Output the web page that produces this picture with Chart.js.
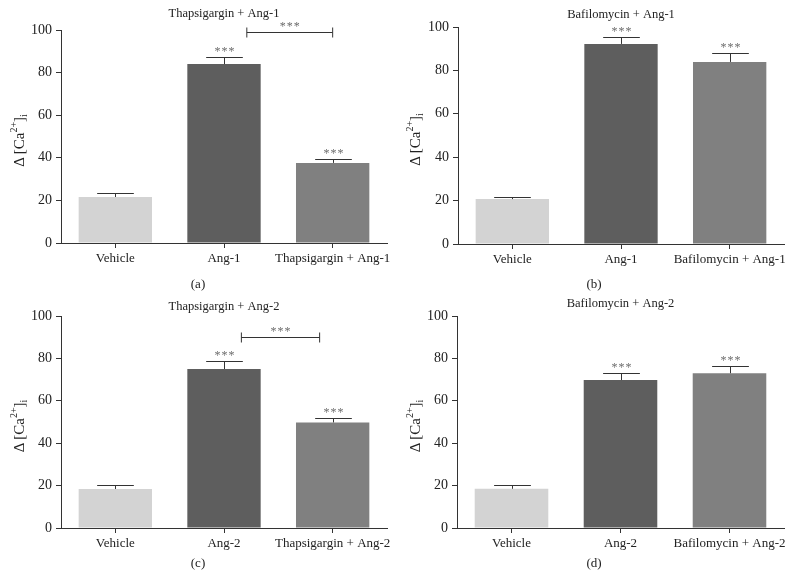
<!DOCTYPE html>
<html>
<head>
<meta charset="utf-8">
<script src="https://cdn.jsdelivr.net/npm/chart.js@4.4.1/dist/chart.umd.min.js"></script>
<style>
  body { margin: 0; background: #fff; }
  .panel { position: absolute; width: 396px; }
  .panel canvas { display: block; }
</style>
</head>
<body>
<div class="panel" style="left:0;top:0;height:292px"><canvas id="chartA"></canvas></div>
<div class="panel" style="left:396px;top:0;height:292px"><canvas id="chartB"></canvas></div>
<div class="panel" style="left:0;top:292px;height:293px"><canvas id="chartC"></canvas></div>
<div class="panel" style="left:396px;top:292px;height:293px"><canvas id="chartD"></canvas></div>
<script>
// values (mean and one-sided SEM)
const categoriesA = ['Vehicle', 'Ang-1', 'Thapsigargin + Ang-1'];
const meansA = [21.6, 84, 37.6];
const errorsA = [1.9, 3.3, 1.8];
const starsA = ['', '***', '***'];

const categoriesB = ['Vehicle', 'Ang-1', 'Bafilomycin + Ang-1'];
const meansB = [20.7, 92.2, 83.9];
const errorsB = [1.0, 3.2, 4.1];
const starsB = ['', '***', '***'];

const categoriesC = ['Vehicle', 'Ang-2', 'Thapsigargin + Ang-2'];
const meansC = [18.4, 75, 49.8];
const errorsC = [1.9, 3.6, 2.2];
const starsC = ['', '***', '***'];

const categoriesD = ['Vehicle', 'Ang-2', 'Bafilomycin + Ang-2'];
const meansD = [18.5, 69.8, 73];
const errorsD = [1.8, 3.5, 3.6];
const starsD = ['', '***', '***'];

const yMin = 0, yMax = 100, yStep = 20;
const barColors = ['#d3d3d3', '#5e5e5e', '#808080'];
const serif = '"Liberation Serif", "DejaVu Serif", serif';
const axisColor = '#333';

function drawStars(ctx, x, y) {
    ctx.fillStyle = '#6a6a6a';
    ctx.font = '12px ' + serif;
    ctx.textAlign = 'center';
    ctx.textBaseline = 'middle';
    [-7, 0, 7].forEach(dx => ctx.fillText('*', x + dx, y));
}

const annotate = {
    id: 'annotate',
    afterDatasetsDraw(chart, args, opts) {
        const { ctx, chartArea, scales: { x, y } } = chart;
        const ds = chart.data.datasets[0];
        const meta = chart.getDatasetMeta(0);
        ctx.save();
        ctx.strokeStyle = axisColor;
        ctx.lineWidth = 1;
        meta.data.forEach((bar, i) => {
            const top = Math.round(y.getPixelForValue(ds.data[i] + ds.errors[i])) + 0.5;
            const cx = Math.round(bar.x) + 0.5;
            const half = bar.width / 4;
            ctx.beginPath();
            ctx.moveTo(cx, bar.y);
            ctx.lineTo(cx, top);
            ctx.moveTo(cx - half, top);
            ctx.lineTo(cx + half, top);
            ctx.stroke();
            if (ds.stars[i]) drawStars(ctx, cx, top - 6);
        });

        // comparison bracket
        const b = opts.bracket;
        if (b) {
            const step = x.getPixelForValue(1) - x.getPixelForValue(0);
            const x0 = x.getPixelForValue(0) + b.from * step;
            const x1 = x.getPixelForValue(0) + b.to * step;
            const by = Math.round(y.getPixelForValue(b.value)) + 0.5;
            ctx.beginPath();
            ctx.moveTo(x0, by); ctx.lineTo(x1, by);
            ctx.moveTo(x0, by - 5); ctx.lineTo(x0, by + 5);
            ctx.moveTo(x1, by - 5); ctx.lineTo(x1, by + 5);
            ctx.stroke();
            drawStars(ctx, (x0 + x1) / 2, by - 6);
        }

        // panel title and letter
        ctx.fillStyle = '#222';
        ctx.textAlign = 'center';
        ctx.textBaseline = 'middle';
        ctx.font = '12.5px ' + serif;
        ctx.fillText(opts.title, (chartArea.left + chartArea.right) / 2, opts.titleY);
        ctx.font = '13px ' + serif;
        ctx.fillText(opts.letter, chart.width / 2, opts.letterY);

        // y axis title: Δ[Ca2+]i
        ctx.translate(20, (chartArea.top + chartArea.bottom) / 2 + 4);
        ctx.rotate(-Math.PI / 2);
        const parts = [
            { t: 'Δ\u2009[Ca', size: 15, dy: 0 },
            { t: '2+', size: 10, dy: -6 },
            { t: ']', size: 15, dy: 0 },
            { t: 'i', size: 10, dy: 4 }
        ];
        let total = 0;
        parts.forEach(p => { ctx.font = p.size + 'px ' + serif; p.w = ctx.measureText(p.t).width; total += p.w; });
        let px = -total / 2;
        ctx.textAlign = 'left';
        parts.forEach(p => {
            ctx.font = p.size + 'px ' + serif;
            ctx.fillText(p.t, px, p.dy);
            px += p.w;
        });
        ctx.restore();
    }
};

function makePanel(id, categories, means, errors, stars, cfg) {
    return new Chart(document.getElementById(id), {
        type: 'bar',
        data: {
            labels: categories,
            datasets: [{
                data: means,
                errors: errors,
                stars: stars,
                backgroundColor: barColors,
                borderWidth: 0,
                categoryPercentage: 1,
                barPercentage: 0.675
            }]
        },
        options: {
            responsive: true,
            maintainAspectRatio: false,
            animation: false,
            layout: { padding: { top: cfg.top, right: cfg.right, left: 0, bottom: 0 } },
            scales: {
                x: {
                    grid: { drawOnChartArea: false, offset: false, tickLength: 5, color: axisColor },
                    border: { color: axisColor },
                    ticks: { color: '#222', padding: 3, maxRotation: 0, autoSkip: false, font: { family: serif, size: 13 } },
                    afterFit: s => { s.height = cfg.xHeight; }
                },
                y: {
                    min: yMin, max: yMax,
                    grid: { drawOnChartArea: false, tickLength: 5, color: axisColor },
                    border: { color: axisColor },
                    ticks: { stepSize: yStep, color: '#222', padding: 4, font: { family: serif, size: 14 } },
                    afterFit: s => { s.width = cfg.yWidth; }
                }
            },
            plugins: {
                legend: { display: false },
                tooltip: { enabled: false },
                annotate: cfg
            }
        },
        plugins: [annotate]
    });
}

makePanel('chartA', categoriesA, meansA, errorsA, starsA, {
    title: 'Thapsigargin + Ang-1', letter: '(a)', titleY: 14, letterY: 285,
    top: 30, right: 9, yWidth: 61, xHeight: 49,
    bracket: { from: 1.21, to: 2.0, value: 99 }
});
makePanel('chartB', categoriesB, meansB, errorsB, starsB, {
    title: 'Bafilomycin + Ang-1', letter: '(b)', titleY: 15, letterY: 285,
    top: 27, right: 8, yWidth: 62, xHeight: 48
});
makePanel('chartC', categoriesC, meansC, errorsC, starsC, {
    title: 'Thapsigargin + Ang-2', letter: '(c)', titleY: 15, letterY: 272,
    top: 24, right: 9, yWidth: 61, xHeight: 57,
    bracket: { from: 1.16, to: 1.88, value: 90 }
});
makePanel('chartD', categoriesD, meansD, errorsD, starsD, {
    title: 'Bafilomycin + Ang-2', letter: '(d)', titleY: 12, letterY: 272,
    top: 24, right: 8, yWidth: 61, xHeight: 57
});
</script>
</body>
</html>
